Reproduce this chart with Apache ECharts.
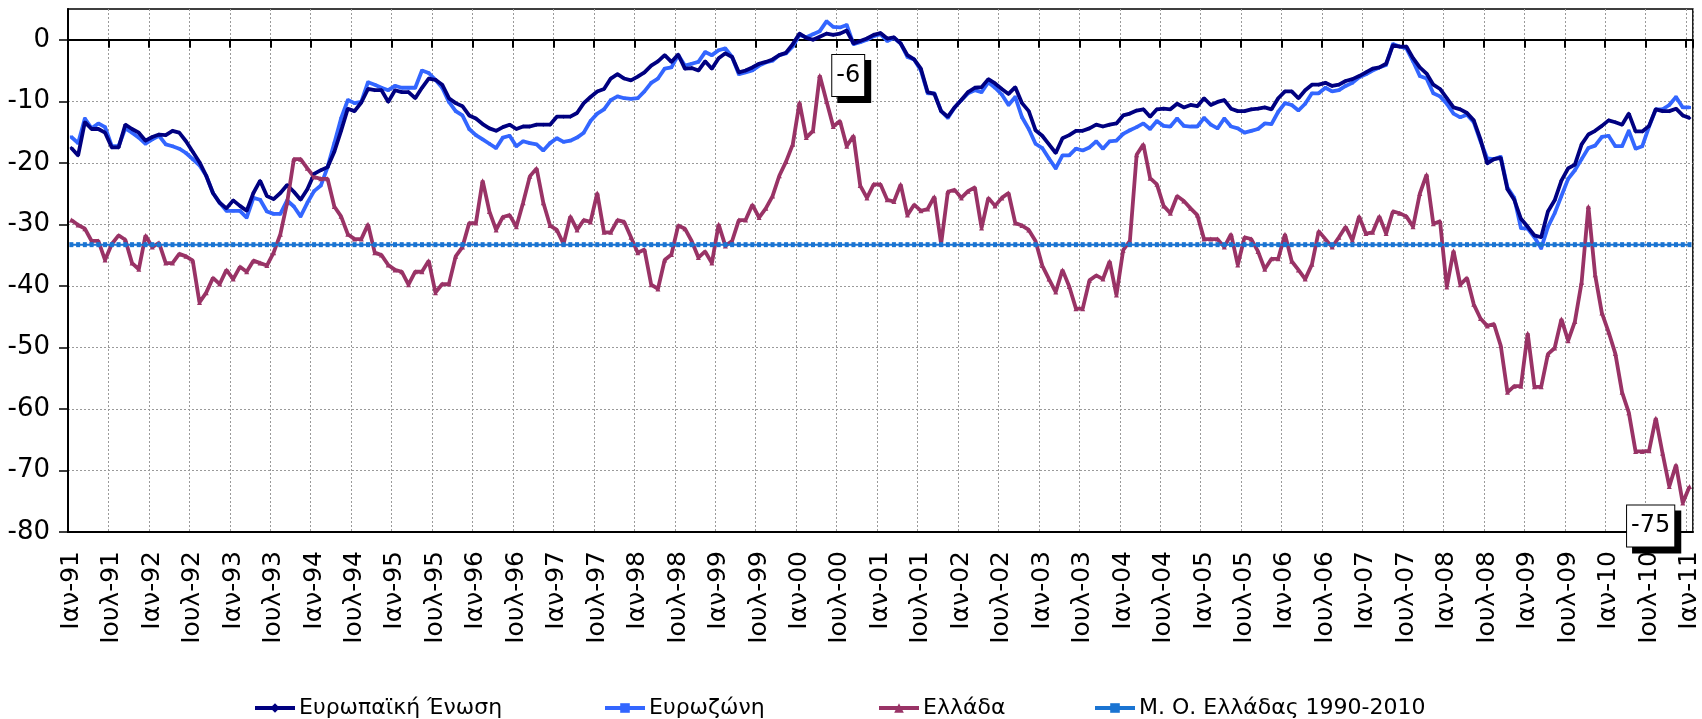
<!DOCTYPE html>
<html>
<head>
<meta charset="utf-8">
<script src="https://cdn.jsdelivr.net/npm/echarts@6/dist/echarts.min.js"></script>
<style>
  html, body { margin: 0; padding: 0; background: #fff; }
  #chartBox { width: 1702px; height: 719px; }
</style>
</head>
<body>
<div id="chartBox"></div>
<script>
// monthly labels Ιαν-91 ... Ιαν-11
const monthNames = ['Ιαν', 'Φεβ', 'Μαρ', 'Απρ', 'Μαϊ', 'Ιουν', 'Ιουλ', 'Αυγ', 'Σεπ', 'Οκτ', 'Νοε', 'Δεκ'];
const categories = [];
for (let y = 1991; y <= 2011; y++) {
  for (let m = 0; m < 12; m++) {
    if (y === 2011 && m > 0) break;
    categories.push(monthNames[m] + '-' + String(y).slice(2));
  }
}

const yTicks = [-80, -70, -60, -50, -40, -30, -20, -10, 0];

const euValues = [
  -17.6, -18.8, -13.4, -14.5, -14.5, -15.1, -17.5, -17.5, -13.8, -14.5, -15.1, -16.4,
  -15.8, -15.4, -15.5, -14.8, -15.1, -16.5, -18.2, -19.9, -22.1, -24.9, -26.5, -27.4,
  -26.1, -27.0, -27.8, -24.9, -22.9, -25.4, -25.9, -24.9, -23.6, -24.7, -26.0, -24.3,
  -21.8, -21.2, -20.7, -18.2, -14.8, -11.2, -11.6, -10.2, -8.0, -8.2, -8.2, -10.1,
  -8.2, -8.5, -8.5, -9.5, -7.8, -6.3, -6.5, -7.3, -9.5, -10.3, -10.8, -12.3,
  -12.8, -13.7, -14.4, -14.8, -14.2, -13.8, -14.5, -14.1, -14.1, -13.8, -13.8, -13.8,
  -12.5, -12.5, -12.5, -11.9, -10.3, -9.3, -8.4, -8.0, -6.3, -5.6, -6.3, -6.6,
  -6.0, -5.3, -4.2, -3.5, -2.5, -3.6, -2.4, -4.7, -4.6, -5.0, -3.5, -4.7,
  -3.0, -2.2, -2.8, -5.3, -5.0, -4.5, -3.9, -3.6, -3.2, -2.5, -2.1, -0.7,
  1.0, 0.3, 0.0, 0.5, 1.0, 0.8, 1.0, 1.5, -0.6, -0.2, 0.2, 0.8,
  1.1, 0.2, 0.4, -0.6, -2.5, -3.2, -4.7, -8.5, -8.8, -11.6, -12.5, -11.0,
  -9.8, -8.5, -7.8, -7.7, -6.4, -7.1, -8.0, -8.8, -7.7, -10.3, -11.6, -14.7,
  -15.6, -17.0, -18.4, -16.0, -15.5, -14.8, -14.8, -14.4, -13.8, -14.1, -13.8, -13.6,
  -12.3, -12.0, -11.5, -11.3, -12.5, -11.3, -11.2, -11.3, -10.4, -11.0, -10.6, -10.8,
  -9.5, -10.6, -10.1, -9.8, -11.2, -11.6, -11.6, -11.3, -11.2, -11.0, -11.3, -9.5,
  -8.4, -8.4, -9.5, -8.2, -7.3, -7.3, -7.0, -7.5, -7.3, -6.7, -6.4, -5.9,
  -5.3, -4.7, -4.5, -3.9, -0.9, -1.1, -1.1, -3.0, -4.5, -5.5, -7.3, -8.0,
  -9.5, -11.0, -11.3, -11.9, -13.1, -16.2, -20.1, -19.4, -19.2, -24.3, -26.0, -29.1,
  -30.4, -31.8, -32.1, -27.9, -26.1, -22.9, -20.9, -20.3, -17.0, -15.4, -14.8, -14.0,
  -13.1, -13.4, -13.8, -12.0, -14.9, -14.9, -14.0, -11.3, -11.6, -11.6, -11.2, -12.3,
  -12.7
];

const ezValues = [
  -15.8, -16.8, -12.8, -14.4, -13.6, -14.2, -17.3, -17.3, -14.4, -15.1, -15.9, -16.9,
  -16.2, -15.6, -17.0, -17.3, -17.7, -18.4, -19.4, -20.4, -22.1, -24.9, -26.5, -27.8,
  -27.8, -27.8, -28.9, -25.7, -26.0, -27.9, -28.3, -28.3, -26.1, -27.1, -28.7, -26.5,
  -24.6, -23.7, -20.7, -16.8, -12.8, -9.8, -10.3, -10.1, -6.9, -7.3, -7.8, -8.2,
  -7.5, -7.8, -7.8, -7.8, -5.0, -5.4, -6.5, -7.8, -10.1, -11.6, -12.3, -14.5,
  -15.5, -16.2, -16.9, -17.6, -15.9, -15.6, -17.3, -16.5, -16.8, -17.0, -18.0, -16.8,
  -16.0, -16.6, -16.4, -15.9, -15.1, -13.2, -12.0, -11.3, -9.8, -9.2, -9.5, -9.6,
  -9.5, -8.4, -7.0, -6.3, -4.7, -4.5, -2.5, -4.2, -3.9, -3.6, -2.0, -2.5,
  -1.7, -1.4, -2.8, -5.6, -5.3, -5.0, -4.2, -3.7, -3.4, -2.5, -2.2, -1.1,
  0.8, 0.4, 0.9, 1.4, 3.0, 2.1, 2.0, 2.4, -0.7, -0.4, 0.0, 0.6,
  0.9, -0.2, 0.3, -0.6, -2.8, -3.2, -5.0, -8.7, -8.7, -11.6, -12.7, -11.0,
  -9.8, -8.7, -8.2, -8.5, -6.9, -7.8, -8.9, -10.6, -9.3, -12.6, -14.5, -16.9,
  -17.6, -19.3, -20.9, -18.8, -18.8, -17.7, -18.0, -17.5, -16.5, -17.7, -16.5, -16.4,
  -15.3, -14.7, -14.2, -13.6, -14.5, -13.2, -14.0, -14.1, -12.8, -14.0, -14.1, -14.1,
  -12.7, -13.8, -14.4, -12.8, -14.1, -14.4, -15.1, -14.8, -14.5, -13.6, -13.7, -11.7,
  -10.3, -10.6, -11.5, -10.4, -8.7, -8.7, -7.8, -8.4, -8.2, -7.5, -7.0, -6.1,
  -5.6, -5.0, -4.5, -4.1, -0.7, -1.1, -1.4, -3.5, -5.9, -6.3, -8.7, -9.2,
  -10.4, -12.0, -12.6, -12.2, -13.4, -16.5, -19.3, -19.4, -19.0, -24.0, -25.7, -30.6,
  -30.7, -32.1, -33.9, -30.4, -28.2, -25.4, -22.6, -21.2, -19.4, -17.6, -17.2, -15.8,
  -15.6, -17.3, -17.3, -14.8, -17.7, -17.3, -14.1, -11.3, -11.3, -10.6, -9.3, -11.0,
  -11.0
];

const grValues = [
  -29.3, -30.1, -30.7, -32.7, -32.7, -35.8, -33.2, -31.8, -32.5, -36.3, -37.3, -31.8,
  -33.7, -33.0, -36.3, -36.3, -34.8, -35.2, -35.9, -42.7, -41.1, -38.7, -39.7, -37.4,
  -38.9, -36.9, -37.7, -35.9, -36.3, -36.7, -34.6, -31.6, -26.5, -19.4, -19.4, -20.9,
  -22.3, -22.6, -22.6, -27.1, -28.7, -31.6, -32.4, -32.4, -30.0, -34.6, -35.0, -36.6,
  -37.4, -37.7, -39.8, -37.7, -37.7, -35.9, -41.1, -39.7, -39.7, -35.2, -33.7, -29.8,
  -29.8, -22.9, -27.9, -30.9, -28.8, -28.5, -30.4, -26.5, -22.2, -20.9, -26.5, -30.2,
  -30.9, -33.2, -28.7, -30.9, -29.3, -29.6, -24.9, -31.3, -31.3, -29.3, -29.6, -32.1,
  -34.6, -34.1, -39.8, -40.5, -35.8, -34.9, -30.2, -30.7, -32.7, -35.4, -34.4, -36.3,
  -30.0, -33.5, -32.7, -29.3, -29.3, -26.8, -28.9, -27.4, -25.4, -22.1, -19.8, -17.0,
  -10.2, -15.9, -14.8, -5.8, -10.0, -14.1, -13.2, -17.3, -15.6, -23.7, -25.7, -23.5,
  -23.5, -26.0, -26.3, -23.5, -28.5, -26.8, -27.8, -27.5, -25.5, -33.2, -24.7, -24.4,
  -25.7, -24.6, -24.0, -30.6, -25.7, -27.0, -25.7, -24.9, -29.8, -30.2, -30.9, -32.7,
  -36.7, -38.9, -41.0, -37.4, -40.1, -43.7, -43.7, -39.1, -38.3, -38.9, -36.0, -41.5,
  -34.2, -32.7, -18.7, -17.0, -22.5, -23.5, -27.0, -28.2, -25.4, -26.2, -27.4, -28.5,
  -32.4, -32.4, -32.4, -33.7, -31.6, -36.6, -32.1, -32.4, -34.4, -37.3, -35.6, -35.6,
  -31.6, -36.0, -37.4, -38.9, -36.5, -31.1, -32.4, -33.7, -32.1, -30.4, -32.6, -28.7,
  -31.5, -31.3, -28.7, -31.5, -27.9, -28.2, -28.7, -30.4, -25.0, -21.9, -29.9, -29.5,
  -40.2, -34.3, -39.8, -38.7, -43.0, -45.3, -46.5, -46.2, -49.7, -57.3, -56.3, -56.3,
  -47.7, -56.4, -56.4, -51.1, -50.1, -45.4, -48.9, -45.8, -39.4, -27.1, -38.2, -44.4,
  -47.5, -51.0, -57.3, -60.6, -66.9, -66.9, -66.8, -61.5, -67.2, -72.6, -69.1, -75.3,
  -72.6
];

// average of Greece 1990-2010
const grAverage = -33.3;

const seriesNames = ['Ευρωπαϊκή Ένωση', 'Ευρωζώνη', 'Ελλάδα', 'Μ. Ο. Ελλάδας 1990-2010'];
const seriesColors = ['#000080', '#3366ff', '#993366', '#1a74d2'];

const fontFam = "DejaVu Sans";

const chart = echarts.init(document.getElementById('chartBox'), null, { renderer: 'canvas' });

function legendAt(name, left) {
  return {
    data: [name],
    left: left,
    top: 692,
    itemWidth: 40,
    itemHeight: 12,
    itemGap: 0,
    lineStyle: { width: 4 },
    textStyle: { fontSize: 22, color: '#000', fontFamily: fontFam, padding: [0, 0, 0, -1] },
    selectedMode: false
  };
}

const labelBox = {
  show: true,
  formatter: p => String(Math.round(p.value)),
  color: '#000',
  fontSize: 24,
  fontFamily: fontFam,
  lineHeight: 26,
  backgroundColor: '#fff',
  borderColor: '#000',
  borderWidth: 1,
  padding: [8, 4, 7, 4],
  shadowColor: '#000',
  shadowBlur: 0,
  shadowOffsetX: 6,
  shadowOffsetY: 6
};

const option = {
  animation: false,
  backgroundColor: '#fff',
  textStyle: { fontFamily: fontFam },
  grid: {
    left: 68,
    right: 7,
    top: 9,
    bottom: 187,
    show: true,
    borderColor: '#000',
    borderWidth: 1.5,
    backgroundColor: '#fff'
  },
  legend: [
    legendAt(seriesNames[0], 248),
    legendAt(seriesNames[1], 598),
    legendAt(seriesNames[2], 872),
    legendAt(seriesNames[3], 1088)
  ],
  xAxis: [
    {
      type: 'category',
      data: categories,
      boundaryGap: true,
      position: 'bottom',
      axisLine: { onZero: true, lineStyle: { color: '#000', width: 2 } },
      axisTick: { show: true, interval: 5, length: 8, lineStyle: { color: '#000', width: 2 } },
      axisLabel: { show: false },
      splitLine: { show: true, interval: 5, lineStyle: { color: '#9a9a9a', width: 1, type: [2, 2] } }
    },
    {
      type: 'category',
      data: categories,
      boundaryGap: true,
      position: 'bottom',
      axisLine: { onZero: false, show: true, lineStyle: { color: '#000', width: 2 } },
      axisTick: { show: false },
      axisLabel: {
        interval: 5,
        rotate: 90,
        margin: 19,
        fontSize: 25,
        color: '#000',
        fontFamily: fontFam
      },
      splitLine: { show: false }
    }
  ],
  yAxis: {
    type: 'value',
    min: -80,
    max: 5,
    interval: 10,
    axisLine: { show: true, lineStyle: { color: '#000', width: 2 } },
    axisTick: { show: true, length: 9, customValues: yTicks, lineStyle: { color: '#000', width: 1.5 } },
    axisLabel: { customValues: yTicks, fontSize: 26, color: '#000', margin: 18, fontFamily: fontFam },
    splitLine: { show: true, lineStyle: { color: '#9a9a9a', width: 1, type: [2, 2] } }
  },
  series: [
    {
      name: seriesNames[0],
      type: 'line',
      data: euValues,
      color: seriesColors[0],
      lineStyle: { width: 3.8 },
      symbol: 'diamond',
      symbolSize: 4,
      showAllSymbol: true,
      z: 3
    },
    {
      name: seriesNames[1],
      type: 'line',
      data: ezValues,
      color: seriesColors[1],
      lineStyle: { width: 3.8 },
      symbol: 'rect',
      symbolSize: 3,
      showAllSymbol: true,
      z: 2
    },
    {
      name: seriesNames[2],
      type: 'line',
      data: grValues,
      color: seriesColors[2],
      lineStyle: { width: 3.8 },
      symbol: 'triangle',
      symbolSize: 5,
      showAllSymbol: true,
      z: 3,
      markPoint: {
        symbol: 'rect',
        symbolSize: 1,
        itemStyle: { color: 'rgba(0,0,0,0)' },
        silent: true,
        label: labelBox,
        data: [
          { type: 'max', label: { position: 'right', distance: 12, offset: [0, 0] } },
          { type: 'min', label: { position: 'left', distance: 8, offset: [0, 23] } }
        ]
      }
    },
    {
      name: seriesNames[3],
      type: 'line',
      data: categories.map(() => grAverage),
      color: seriesColors[3],
      lineStyle: { width: 2 },
      symbol: 'rect',
      symbolSize: [4, 5],
      showAllSymbol: true,
      z: 4
    }
  ]
};

chart.setOption(option);
</script>
</body>
</html>
